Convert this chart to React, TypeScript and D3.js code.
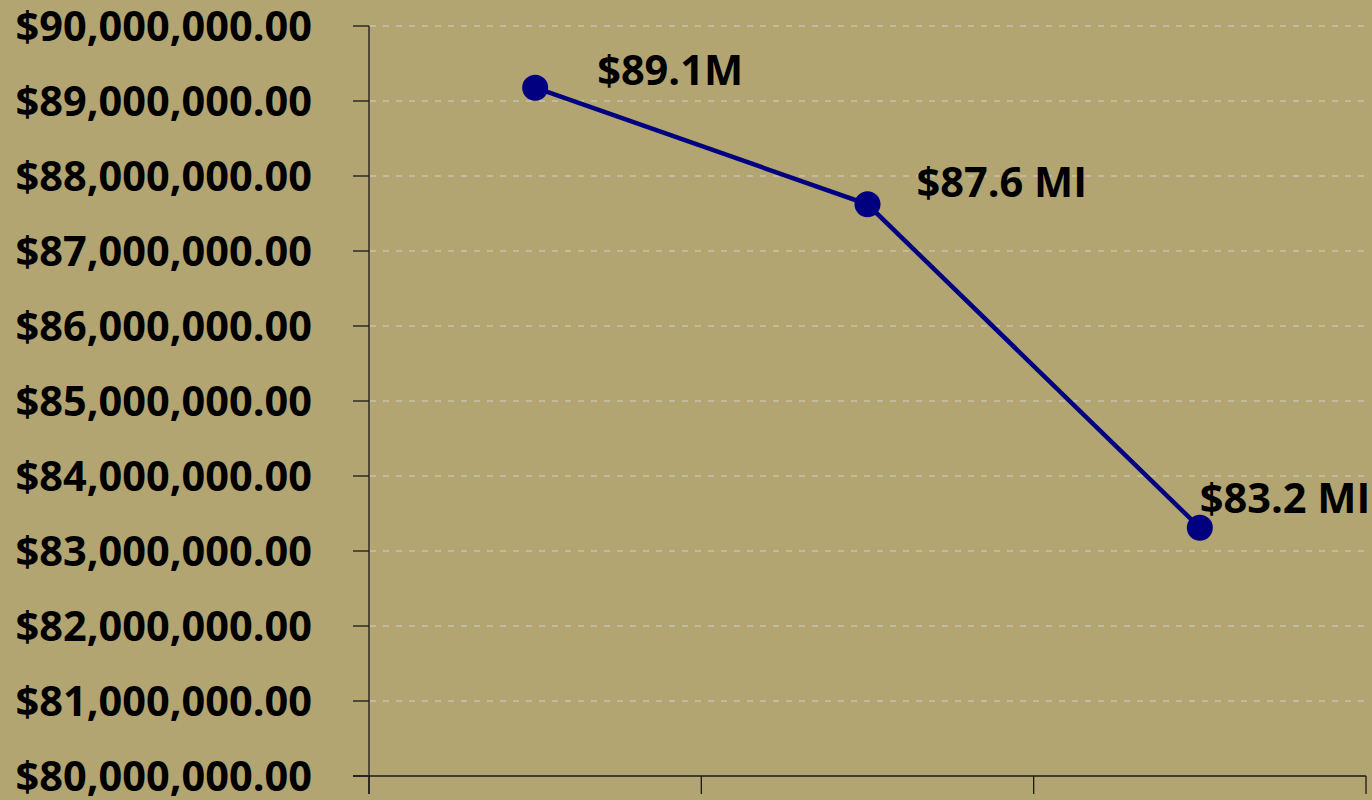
import * as d3 from 'd3'
import { FC } from 'react'

// three periods, no category labels shown on the original
const categories = ['A', 'B', 'C']
const values = [89177000, 87623000, 83310000]
const labels = ['$89.1M', '$87.6 MI', '$83.2 MI']
const yTicks = d3.range(80000000, 90000001, 1000000)

// label offsets from their point (dx, dy to baseline)
const labelOffsets = [[62, -3], [49, -7], [0, -15]]

const App: FC = () => {
    const width = 1372
    const height = 800
    const margin = { left: 369, right: 6, top: 26, bottom: 24 }
    const bg = '#b2a571'

    const x = d3.scaleBand<string>()
        .domain(categories)
        .range([margin.left, width - margin.right])

    const y = d3.scaleLinear()
        .domain([80000000, 90000000])
        .range([height - margin.bottom, margin.top])

    const fmt = (v: number) => '$' + d3.format(',.2f')(v)

    const line = d3.line<number>()
        .x((_, i) => x(categories[i])! + x.bandwidth() / 2)
        .y(d => y(d))

    const x0 = margin.left
    const x1 = width - margin.right
    const yBase = y(80000000)
    const font = '"Open Sans", sans-serif'
    const fs = 41.5

    return (
        <div style={{ position: 'fixed', left: 0, top: 0, width, height, background: bg }}>
            <svg width={width} height={height} style={{ display: 'block' }}>
                <rect width={width} height={height} fill={bg} />
                {/* gridlines */}
                {yTicks.slice(1).map(t => (
                    <line key={'g' + t} x1={x0 + 1} x2={x1} y1={y(t)} y2={y(t)}
                        stroke="#cfcfcf" strokeWidth={1} strokeDasharray="6 7" />
                ))}
                {/* y axis */}
                <line x1={x0} x2={x0} y1={margin.top} y2={yBase + 18} stroke="#1a1a1a" strokeWidth={1.3} />
                {yTicks.map(t => (
                    <g key={'t' + t}>
                        <line x1={x0 - 16} x2={x0} y1={y(t)} y2={y(t)} stroke="#1a1a1a" strokeWidth={1.3} />
                        <text x={312} y={y(t)} dy="0.36em" textAnchor="end"
                            fontFamily={font} fontWeight="bold" fontSize={fs} fill="#000">
                            {fmt(t)}
                        </text>
                    </g>
                ))}
                {/* x axis */}
                <line x1={x0 - 16} x2={x1} y1={yBase} y2={yBase} stroke="#1a1a1a" strokeWidth={1.3} />
                {[...categories.map(c => x(c)!), x1].map((px, i) => (
                    <line key={'xt' + i} x1={px} x2={px} y1={yBase} y2={yBase + 18} stroke="#1a1a1a" strokeWidth={1.3} />
                ))}
                {/* series */}
                <path d={line(values) || ''} fill="none" stroke="#000080" strokeWidth={4.5} />
                {values.map((v, i) => (
                    <circle key={'c' + i} cx={x(categories[i])! + x.bandwidth() / 2} cy={y(v)} r={13} fill="#000080" />
                ))}
                {values.map((v, i) => (
                    <text key={'l' + i}
                        x={x(categories[i])! + x.bandwidth() / 2 + labelOffsets[i][0]}
                        y={y(v) + labelOffsets[i][1]}
                        fontFamily={font} fontWeight="bold" fontSize={fs} fill="#000">
                        {labels[i]}
                    </text>
                ))}
            </svg>
        </div>
    )
}

export default App
